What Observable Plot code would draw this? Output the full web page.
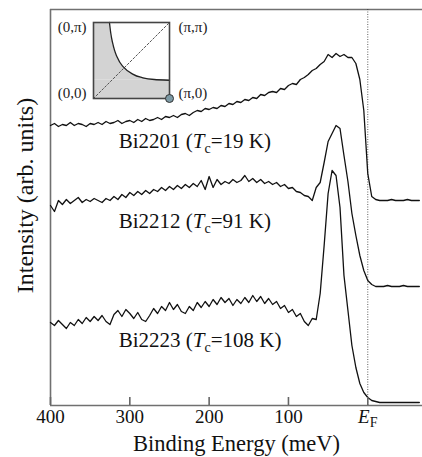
<!DOCTYPE html>
<html><head><meta charset="utf-8">
<script src="https://cdn.jsdelivr.net/npm/d3@7"></script>
<script src="https://cdn.jsdelivr.net/npm/@observablehq/plot@0.6"></script>
<style>
body{margin:0;background:#fff;font-family:"Liberation Serif";}
#wrap{position:relative;width:422px;height:457px;}
</style></head><body><div id="wrap"></div>
<script>
// Binding energy grid (meV)
const energy = [400,395,390,385,380,375,370,365,360,355,
  350,345,340,335,330,325,320,315,310,305,
  300,295,290,285,280,275,270,265,260,255,
  250,245,240,235,230,225,220,215,210,205,
  200,195,190,185,180,175,170,165,160,155,
  150,145,140,135,130,125,120,115,110,105,
  100,95,90,85,80,75,70,65,60,55,
  50,45,40,35,30,25,20,15,10,5,
  0,-5,-10,-15,-20,-25,-30,-35,-40,-45,
  -50,-55,-60,-65];
// Intensities (arb. units, offsets included)
const bi2201 = [280,282,279,281,280,283,280,282,281,279,
  282,281,283,281,284,282,283,285,282,284,
  285,283,286,284,287,285,286,288,286,289,
  288,290,288,291,292,290,293,295,294,297,
  296,298,297,300,299,302,301,304,303,306,
  305,308,307,311,310,313,314,313,317,316,
  320,322,321,326,328,331,335,337,341,344,
  351,348,352,349,351,348,348,342,326,295,
  232,209,206,205,205,205,206,205,205,205,
  206,205,205,205];
const bi2212 = [200,194,205,201,206,202,205,208,203,206,
  204,207,205,203,207,205,209,206,211,208,
  213,210,214,211,215,212,216,214,218,215,
  219,216,220,217,221,218,222,219,225,216,
  229,218,226,221,224,222,226,223,225,230,
  224,227,223,226,222,224,221,223,219,221,
  217,218,214,213,210,209,205,218,223,243,
  264,272,280,277,250,224,192,170,150,135,
  125,121,119,119,119,120,119,119,119,120,
  119,119,119,119];
const bi2223 = [83,80,85,81,77,83,80,86,82,88,
  84,89,85,90,84,81,91,95,89,96,
  92,87,93,86,84,90,97,92,99,95,
  103,96,101,94,92,99,95,103,98,104,
  99,106,101,108,103,107,100,106,102,108,
  103,110,104,109,102,107,101,104,97,100,
  93,96,89,92,84,80,87,86,112,160,
  212,235,230,198,130,95,60,38,22,13,
  8,5,4,3,3,3,3,3,3,3,
  3,3,3,3];
const samples = ["Bi2201","Bi2212","Bi2223"];
const tcValues = [19,91,108];
const labelEnergy = [314,314,314];
const labelIntensity = [258,178,59];
const xTicks = [400,300,200,100,0];
const intensityTop = 396;
// Inset: Fermi surface in units of pi
const fsKx = [1.0,0.8,0.62,0.5,0.38,0.3,0.245,0.21];
const fsKy = [0.24,0.25,0.28,0.33,0.43,0.57,0.76,1.0];
const cornerKx = [0,1,0,1];
const cornerKy = [1,1,0,0];
const cornerText = ["(0,\u03c0)","(\u03c0,\u03c0)","(0,0)","(\u03c0,0)"];

const serif = "Liberation Serif";
const rows = [];
[bi2201,bi2212,bi2223].forEach((s,k)=>s.forEach((v,i)=>rows.push({sample:samples[k],energy:energy[i],intensity:v})));
const labels = samples.map((s,i)=>({x:labelEnergy[i],y:labelIntensity[i],text:`${s} (Tc=${tcValues[i]} K)`}));

const chart = Plot.plot({
  width:422, height:457, marginLeft:50, marginRight:0, marginTop:9, marginBottom:52,
  style:{fontFamily:serif, fontSize:"19px", color:"#111", background:"white", overflow:"visible"},
  x:{domain:[400,-69]},
  y:{domain:[0,intensityTop], axis:null},
  marks:[
    Plot.ruleY([intensityTop],{stroke:"#707070",strokeWidth:1.6}),
    Plot.ruleX([400],{stroke:"#707070",strokeWidth:1.6}),
    Plot.ruleY([0],{stroke:"#707070",strokeWidth:1.6}),
    Plot.ruleX([0],{stroke:"#333",strokeWidth:0.8,strokeDasharray:"1,1.5"}),
    Plot.line(rows,{x:"energy",y:"intensity",z:"sample",stroke:"#111",strokeWidth:1.3}),
    Plot.axisX({ticks:xTicks,tickSize:8,dy:-8,fill:"none",stroke:"#666",strokeWidth:1.6,label:null}),
    Plot.axisX({ticks:xTicks,tickSize:0,tickPadding:4,tickFormat:d=>d===0?"EF":String(d),fontSize:19,fontFamily:serif,fill:"#111",label:null}),
    Plot.text(labels,{x:"x",y:"y",text:"text",textAnchor:"start",lineAnchor:"bottom",fontSize:21,fontFamily:serif,fill:"#111"}),
    Plot.text(["Binding Energy (meV)"],{text:d=>d,frameAnchor:"bottom",dy:45,textAnchor:"middle",lineAnchor:"bottom",fontSize:22.5,fontFamily:serif,fill:"#111"}),
    Plot.text(["Intensity (arb. units)"],{text:d=>d,frameAnchor:"left",rotate:-90,dx:-25,dy:-12,textAnchor:"middle",lineAnchor:"middle",fontSize:24,fontFamily:serif,fill:"#111"})
  ]
});

const fs = fsKx.map((k,i)=>({kx:k,ky:fsKy[i]}));
const corners = cornerKx.map((k,i)=>({kx:k,ky:cornerKy[i],text:cornerText[i]}));
const inset = Plot.plot({
  width:156, height:92, marginLeft:40, marginRight:40, marginTop:8, marginBottom:8,
  style:{fontFamily:serif, fontSize:"15px", background:"transparent", overflow:"visible"},
  x:{domain:[0,1],axis:null}, y:{domain:[0,1],axis:null},
  marks:[
    Plot.rect([fs[0]],{x1:0,x2:1,y1:0,y2:"ky",fill:"#d3d3d3"}),
    Plot.areaX(fs,{y:"ky",x1:0,x2:"kx",fill:"#d3d3d3",curve:"monotone-y"}),
    Plot.line([{kx:0,ky:0},{kx:1,ky:1}],{x:"kx",y:"ky",stroke:"#555",strokeDasharray:"2,2",strokeWidth:1}),
    Plot.line(fs,{x:"kx",y:"ky",stroke:"#222",strokeWidth:1.3,curve:"monotone-y"}),
    Plot.frame({stroke:"#444",strokeWidth:1.6}),
    Plot.dot([corners[3]],{x:"kx",y:"ky",r:4,fill:"#7d9aa5",stroke:"#333",strokeWidth:1}),
    ...corners.map(c=>Plot.text([c],{x:"kx",y:"ky",text:"text",
      textAnchor:c.kx===0?"end":"start",dx:c.kx===0?-7:9,dy:c.ky===1?5:-5,
      fill:"#222",lineAnchor:"middle",fontSize:15,fontFamily:serif}))
  ]
});

// rich text: italic T with subscript c, italic E with subscript F
const NS = "http://www.w3.org/2000/svg";
function setRich(t, parts){
  while(t.firstChild) t.removeChild(t.firstChild);
  for(const p of parts){
    const s = document.createElementNS(NS,"tspan");
    s.textContent = p.text;
    if(p.italic) s.setAttribute("font-style","italic");
    if(p.size) s.setAttribute("font-size",p.size);
    if(p.dy) s.setAttribute("dy",p.dy);
    t.appendChild(s);
  }
}
chart.querySelectorAll("text").forEach(t=>{
  const s = t.textContent;
  const m = s.match(/^(.*\()Tc(=.*)$/);
  if(m) setRich(t,[{text:m[1]},{text:"T",italic:true},{text:"c",size:"14px",dy:"5"},{text:m[2],dy:"-5"}]);
  else if(s==="EF") setRich(t,[{text:"E",italic:true},{text:"F",size:"14px",dy:"4"}]);
});
[chart, inset].forEach(svg=>{
  svg.setAttribute("font-family", serif);
  svg.querySelectorAll("text, tspan").forEach(t=>{t.setAttribute("font-family", serif);});
});

const wrap = document.getElementById("wrap");
wrap.appendChild(chart);
inset.style.position = "absolute";
inset.style.left = "53px";
inset.style.top = "14px";
wrap.appendChild(inset);
</script></body></html>
